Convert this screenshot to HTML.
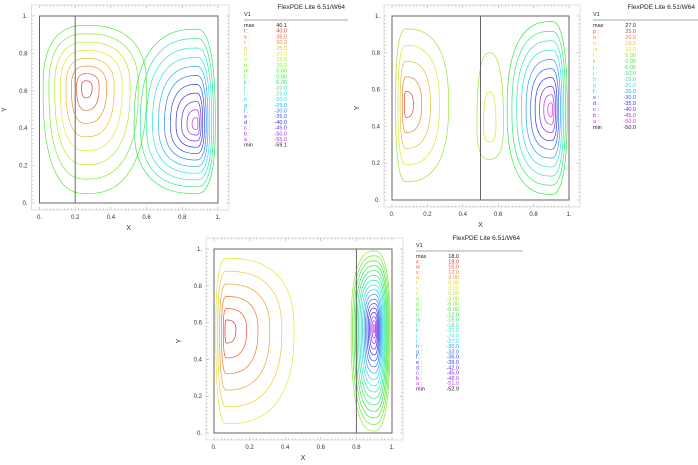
<!DOCTYPE html>
<html><head><meta charset="utf-8"><style>
html,body{margin:0;padding:0;background:#fff;}
svg{display:block;font-family:"Liberation Sans",sans-serif;}
</style></head><body>
<svg id="chart" width="698" height="465" viewBox="0 0 698 465"></svg>
<script>
// Panel 1 data
const levels1Letters=['t','s','r','q','p','o','n','m','l','k','j','i','h','g','f','e','d','c','b','a'];
const levels1Values=[40,35,30,25,20,15,10,5,0,-5,-10,-15,-20,-25,-30,-35,-40,-45,-50,-55];
const max1=40.1, min1=-59.1;
// Panel 2 data
const levels2Letters=['p','o','n','m','l','k','j','i','h','g','f','e','d','c','b','a'];
const levels2Values=[25,20,15,10,5,0,-5,-10,-15,-20,-25,-30,-35,-40,-45,-50];
const max2=27.0, min2=-50.0;
// Panel 3 data
const levels3Letters=['x','w','v','u','t','s','r','q','p','o','n','m','l','k','j','i','h','g','f','e','d','c','b','a'];
const levels3Values=[18,15,12,9,6,3,0,-3,-6,-9,-12,-15,-18,-21,-24,-27,-30,-33,-36,-39,-42,-45,-48,-51];
const max3=18.0, min3=-52.9;
const xTicks=[0,0.2,0.4,0.6,0.8,1];
const xTickLabels=['0.','0.2','0.4','0.6','0.8','1.'];
const yTicks=[0,0.2,0.4,0.6,0.8,1];
const yTickLabels=['0.','0.2','0.4','0.6','0.8','1.'];
// vortices: [cx, cy, xLeft, xRight, yBottom, yTop, outerLevelIndex, step, count]
const vort1=[[0.26,0.62,0.02,0.6,0.05,0.95,7,-1,8],[0.88,0.42,0.53,0.985,0.05,0.93,9,1,11]];
const vort2=[[0.08,0.52,0.02,0.32,0.1,0.93,4,-1,5],[0.55,0.4,0.48,0.63,0.22,0.8,4,-1,2],[0.9,0.49,0.65,0.99,0.03,0.97,6,1,10]];
const vort3=[[0.07,0.56,0.01,0.45,0.05,0.95,5,-1,6],[0.9,0.57,0.77,0.99,0.01,0.99,7,1,17]];

const NS='http://www.w3.org/2000/svg';
const svg=document.getElementById('chart');
function el(tag,attrs,parent){const e=document.createElementNS(NS,tag);for(const k in attrs)e.setAttribute(k,attrs[k]);(parent||svg).appendChild(e);return e;}
function fmt(v){return Math.abs(v)<10?v.toFixed(2):v.toFixed(1);}
function col(v,mx,mn){const h=300*(mx-v)/(mx-mn);return 'hsl('+h.toFixed(0)+',80%,55%)';}

function panel(P){
  const g=el('g',{});
  
  
  const sx=x=>P.x0+x*(P.x1-P.x0), sy=y=>P.y0-y*(P.y0-P.y1);
  const fr=el('rect',{x:P.x0-8,y:P.y1-11,width:P.x1-P.x0+19,height:P.y0-P.y1+18,fill:'none',stroke:'#ccc','stroke-width':0.6},g);
  
  for(let i=0;i<=50;i++){const t=i/50;const len=i%10==0?3:1.5;
    el('line',{x1:sx(t),x2:sx(t),y1:P.y1-11,y2:P.y1-11+len,stroke:'#999','stroke-width':0.5},g);
    el('line',{x1:sx(t),x2:sx(t),y1:P.y0+7,y2:P.y0+7-len,stroke:'#999','stroke-width':0.5},g);
    el('line',{x1:P.x0-8,x2:P.x0-8+len,y1:sy(t),y2:sy(t),stroke:'#999','stroke-width':0.5},g);
    el('line',{x1:P.x1+11,x2:P.x1+11-len,y1:sy(t),y2:sy(t),stroke:'#999','stroke-width':0.5},g);}
  xTicks.forEach((t,i)=>{const tx=el('text',{x:sx(t),y:P.y0+16,'font-size':6,'text-anchor':'middle',fill:'#333'},g);tx.textContent=xTickLabels[i];
    });
  yTicks.forEach((t,i)=>{const tx=el('text',{x:P.x0-12,y:sy(t)+2,'font-size':6,'text-anchor':'end',fill:'#333'},g);tx.textContent=yTickLabels[i];
    });
  const xl=el('text',{x:(P.x0+P.x1)/2,y:P.y0+27,'font-size':7,'text-anchor':'middle',fill:'#333'},g);xl.textContent='X';
  
  const yl=el('text',{x:P.x0-33,y:(P.y0+P.y1)/2,'font-size':7,'text-anchor':'middle',fill:'#333',transform:'rotate(-90 '+(P.x0-33)+' '+((P.y0+P.y1)/2)+')'},g);yl.textContent='Y';
  
  P.vort.forEach(v=>{const [cx,cy,xl_,xr,yb,yt,oi,stp,n]=v;
    for(let i=0;i<n;i++){const f=Math.pow((n-i)/n,1.1);const lv=P.values[oi+stp*i];
      let d='';for(let k=0;k<=72;k++){const a=k/72*2*Math.PI;const c=Math.cos(a),s=Math.sin(a);
        const rx=(c>=0?xr-cx:cx-xl_)*f, ry=(s>=0?yt-cy:cy-yb)*f;
        const px=cx+rx*Math.sign(c)*Math.pow(Math.abs(c),0.8), py=cy+ry*Math.sign(s)*Math.pow(Math.abs(s),0.8);
        d+=(k?'L':'M')+sx(px).toFixed(1)+' '+sy(py).toFixed(1);}
      const p=el('path',{d:d+'Z',fill:'none',stroke:col(lv,P.mx,P.mn),'stroke-width':0.7},g);
      }});
  el('rect',{x:P.x0,y:P.y1,width:P.x1-P.x0,height:P.y0-P.y1,fill:'none',stroke:'#666','stroke-width':1},g);
  const dv=el('line',{x1:sx(P.div),x2:sx(P.div),y1:P.y1,y2:P.y0,stroke:'#666','stroke-width':1},g);
  
  const L=P.lx, ty=P.ty;
  const tt=el('text',{x:P.tr,y:ty,'font-size':6.5,'text-anchor':'end',fill:'#222'},g);tt.textContent='FlexPDE Lite 6.51/W64';
  
  const v1=el('text',{x:L,y:ty+7,'font-size':5.5,fill:'#222'},g);v1.textContent='V1';
  el('line',{x1:L,x2:P.tr+3,y1:ty+11,y2:ty+11,stroke:'#555','stroke-width':0.6},g);
  const rows=[['max',P.mx,'#222']].concat(P.letters.map((l,i)=>[l+' :',P.values[i],col(P.values[i],P.mx,P.mn)])).concat([['min',P.mn,'#222']]);
  rows.forEach((r,i)=>{const y=ty+18+i*P.ls;
    const a=el('text',{x:L,y:y,'font-size':5.5,fill:r[2]},g);a.textContent=r[0];
    
    const b=el('text',{x:L+43,y:y,'font-size':5.5,fill:r[2],'text-anchor':'end'},g);b.textContent=fmt(r[1]);
    });
}
panel({name:'panel-1',x0:39.5,x1:218,y0:203,y1:16,div:0.2,vort:vort1,values:levels1Values,letters:levels1Letters,mx:max1,mn:min1,lx:244,tr:345,ty:9,ls:5.7});
panel({name:'panel-2',x0:392,x1:569,y0:200,y1:16,div:0.5,vort:vort2,values:levels2Values,letters:levels2Letters,mx:max2,mn:min2,lx:593,tr:695,ty:9,ls:6});
panel({name:'panel-3',x0:214,x1:392,y0:433,y1:249,div:0.8,vort:vort3,values:levels3Values,letters:levels3Letters,mx:max3,mn:min3,lx:416,tr:520,ty:240,ls:5.3});
</script>
</body></html>
